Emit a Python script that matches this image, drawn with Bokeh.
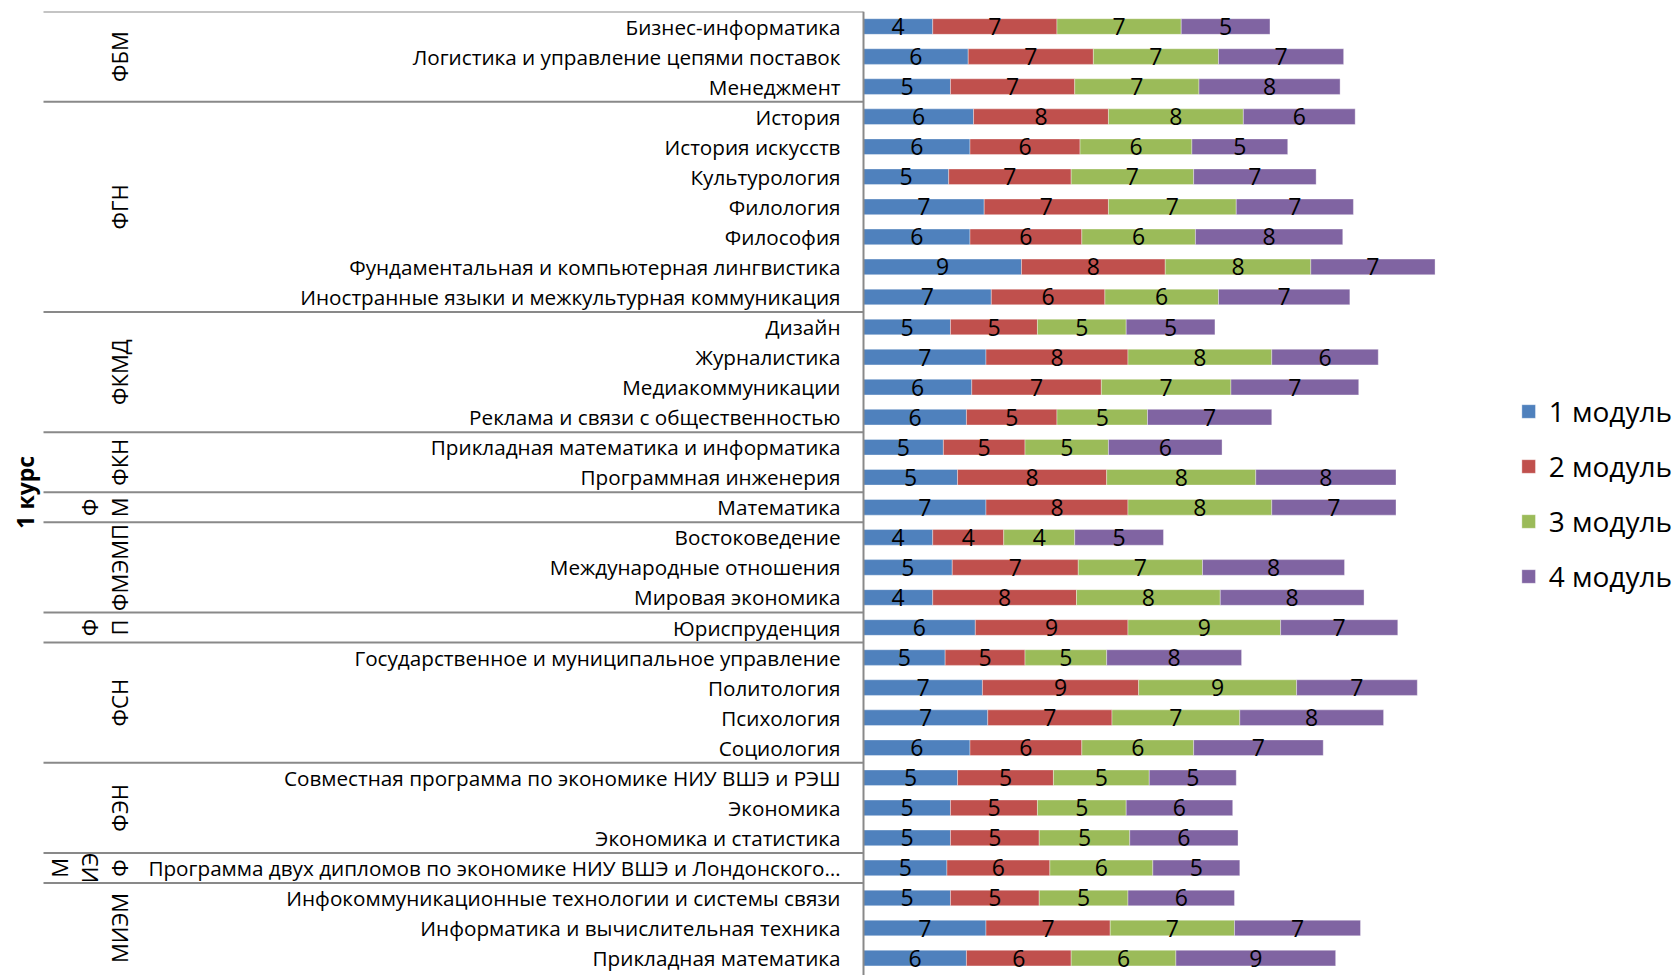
import numpy as np
from bokeh.plotting import figure
from bokeh.models import Range1d, ColumnDataSource, Span, Legend, LegendItem
from bokeh.core.properties import value
from bokeh.embed import file_html
from bokeh.resources import INLINE

# ---------------- data ----------------
course = "1 курс"
faculties = ["ФБМ", "ФГН", "ФКМД", "ФКН", "ФМ", "ФМЭМП", "ФП", "ФСН", "ФЭН", "МИЭФ", "МИЭМ"]
faculty_lines = [["ФБМ"], ["ФГН"], ["ФКМД"], ["ФКН"], ["Ф", "М"], ["ФМЭМП"], ["Ф", "П"],
                 ["ФСН"], ["ФЭН"], ["М", "ИЭ", "Ф"], ["МИЭМ"]]
faculty_sizes = [3, 7, 4, 2, 1, 3, 1, 4, 3, 1, 3]

programs = [
    "Бизнес-информатика",
    "Логистика и управление цепями поставок",
    "Менеджмент",
    "История",
    "История искусств",
    "Культурология",
    "Филология",
    "Философия",
    "Фундаментальная и компьютерная лингвистика",
    "Иностранные языки и межкультурная коммуникация",
    "Дизайн",
    "Журналистика",
    "Медиакоммуникации",
    "Реклама и связи с общественностью",
    "Прикладная математика и информатика",
    "Программная инженерия",
    "Математика",
    "Востоковедение",
    "Международные отношения",
    "Мировая экономика",
    "Юриспруденция",
    "Государственное и муниципальное управление",
    "Политология",
    "Психология",
    "Социология",
    "Совместная программа по экономике НИУ ВШЭ и РЭШ",
    "Экономика",
    "Экономика и статистика",
    "Программа двух дипломов по экономике НИУ ВШЭ и Лондонского…",
    "Инфокоммуникационные технологии и системы связи",
    "Информатика и вычислительная техника",
    "Прикладная математика",
]

series_names = ["1 модуль", "2 модуль", "3 модуль", "4 модуль"]
m1 = [3.9, 5.9, 4.9, 6.2, 6.0, 4.8, 6.8, 6.0, 8.9, 7.2, 4.9, 6.9, 6.1, 5.8, 4.5, 5.3,
      6.9, 3.9, 5.0, 3.9, 6.3, 4.6, 6.7, 7.0, 6.0, 5.3, 4.9, 4.9, 4.7, 4.9, 6.9, 5.8]
m2 = [7.0, 7.05, 7.0, 7.6, 6.2, 6.9, 7.0, 6.3, 8.1, 6.4, 4.9, 8.0, 7.3, 5.1, 4.6, 8.4,
      8.0, 4.0, 7.1, 8.1, 8.6, 4.5, 8.8, 7.0, 6.3, 5.4, 4.9, 5.0, 5.8, 5.0, 7.0, 5.9]
m3 = [7.0, 7.05, 7.0, 7.6, 6.3, 6.9, 7.2, 6.4, 8.2, 6.4, 5.0, 8.1, 7.3, 5.1, 4.7, 8.4,
      8.1, 4.0, 7.0, 8.1, 8.6, 4.6, 8.9, 7.2, 6.3, 5.4, 5.0, 5.1, 5.8, 5.0, 7.0, 5.9]
m4 = [5.0, 7.05, 7.95, 6.3, 5.4, 6.9, 6.6, 8.3, 7.0, 7.4, 5.0, 6.0, 7.2, 7.0, 6.4, 7.9,
      7.0, 5.0, 8.0, 8.1, 6.6, 7.6, 6.8, 8.1, 7.3, 4.9, 6.0, 6.1, 4.9, 6.0, 7.1, 9.0]

colors = ["#4F81BD", "#C0504D", "#9BBB59", "#8064A2"]

# ---------------- layout constants ----------------
W, H = 1675, 975
TOP_PX = 11
ROW_PX = 30.05
AXIS_PX = 863.0       # axis position from figure left (px)
UNIT_PX = 17.75       # px per value unit
SEP_LEFT_PX = 43.0
GROUP_COL_PX = 118.0
GROUP_LINE_STEP = 30.0
COURSE_PX = 24.0
FONT = "Open Sans"
GRAY = "#898989"

def px_to_x(px):
    return (px - AXIS_PX) / UNIT_PX

n = len(programs)
rows = np.arange(n)

p = figure(width=W, height=H, output_backend="svg", toolbar_location=None,
           x_range=Range1d(px_to_x(0), px_to_x(W)),
           y_range=Range1d(-0.5 + (H - TOP_PX) / ROW_PX, -0.5),
           min_border_left=0, min_border_right=0, min_border_top=TOP_PX, min_border_bottom=0,
           x_axis_location=None, y_axis_location=None)
p.grid.visible = False
p.outline_line_color = None
p.background_fill_color = "white"

# ---------------- stacked bars ----------------
vals = np.array([m1, m2, m3, m4], dtype=float)
lefts = np.vstack([np.zeros(n), np.cumsum(vals, axis=0)[:-1]])
items = []
for k in range(4):
    src = ColumnDataSource(dict(y=rows, left=lefts[k], right=lefts[k] + vals[k],
                                mid=lefts[k] + vals[k] / 2,
                                lab=[str(int(v + 0.5)) for v in vals[k]]))
    r = p.hbar(y="y", left="left", right="right", height=0.52, source=src,
               fill_color=colors[k], line_color="white", line_alpha=0.35, line_width=1)
    p.text(x="mid", y="y", text="lab", source=src, text_align="center",
           text_baseline="middle", text_font=value(FONT), text_font_size="23px",
           text_color="#000000")
    items.append(LegendItem(label=series_names[k], renderers=[r]))

# ---------------- category labels ----------------
p.text(x=np.zeros(n), y=rows, text=programs, x_offset=-23, text_align="right",
       text_baseline="middle", text_font=value(FONT), text_font_size="20.7px",
       text_color="#000000")

# ---------------- group separators & labels ----------------
starts = np.concatenate([[0], np.cumsum(faculty_sizes)[:-1]])
sep_y = starts - 0.5
p.segment(x0=np.full(len(sep_y), px_to_x(SEP_LEFT_PX)), x1=np.zeros(len(sep_y)),
          y0=sep_y, y1=sep_y, line_color=GRAY, line_width=2)

gx, gy, gt = [], [], []
for s, size, lines in zip(starts, faculty_sizes, faculty_lines):
    cy = s + (size - 1) / 2
    m = len(lines)
    for j, t in enumerate(lines):
        gx.append(px_to_x(GROUP_COL_PX - (m - 1 - j) * GROUP_LINE_STEP))
        gy.append(cy)
        gt.append(t)
p.text(x=gx, y=gy, text=gt, angle=np.pi / 2, text_align="center", text_baseline="middle",
       text_font=value(FONT), text_font_size="22px", text_color="#000000")

p.text(x=[px_to_x(COURSE_PX)], y=[(n - 1) / 2], text=[course], angle=np.pi / 2,
       text_align="center", text_baseline="middle", text_font=value(FONT),
       text_font_size="23px", text_font_style="bold", text_color="#000000")

# axis line
p.add_layout(Span(location=0, dimension="height", line_color=GRAY, line_width=2))

# ---------------- legend ----------------
legend = Legend(items=items, location="center_right", orientation="vertical",
                label_text_font=FONT, label_text_font_size="28px", label_text_color="#000000",
                glyph_width=17, glyph_height=17, label_standoff=12, spacing=17,
                padding=0, margin=3, border_line_color=None, background_fill_alpha=0)
p.add_layout(legend)

open("out.html", "w").write(file_html(p, INLINE))
